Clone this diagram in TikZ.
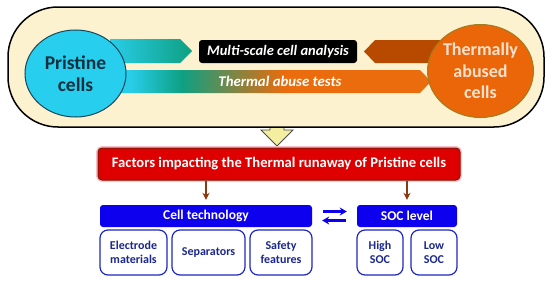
\documentclass[tikz,border=0pt]{standalone}
\usepackage{fontspec}
\setmainfont{Carlito}
\usetikzlibrary{arrows.meta,shapes.geometric}

\definecolor{cream}{RGB}{253,242,208}
\definecolor{pcyan}{RGB}{40,206,238}
\definecolor{pborder}{RGB}{22,70,90}
\definecolor{ptext}{RGB}{14,48,62}
\definecolor{torange}{RGB}{234,102,8}
\definecolor{tborder}{RGB}{160,125,30}
\definecolor{ttext}{RGB}{252,226,206}
\definecolor{tealA}{RGB}{40,205,232}
\definecolor{tealB}{RGB}{14,160,130}
\definecolor{abrown}{RGB}{184,74,0}
\definecolor{aorange}{RGB}{234,108,12}
\definecolor{fred}{RGB}{222,0,0}
\definecolor{fborder}{RGB}{120,30,10}
\definecolor{fglow}{RGB}{250,190,200}
\definecolor{darrow}{RGB}{139,58,15}
\definecolor{bblue}{RGB}{12,0,238}
\definecolor{sbborder}{RGB}{30,40,190}
\definecolor{sbtext}{RGB}{28,40,140}
\definecolor{yarrow}{RGB}{243,238,160}

\pgfdeclarehorizontalshading{abuseshade}{100bp}{color(0bp)=(tealA); color(25bp)=(tealA); color(28bp)=(tealA); color(36bp)=(tealB); color(52bp)=(aorange); color(75bp)=(aorange); color(100bp)=(aorange)}

\tikzset{
  cellcircle/.style={ellipse, draw, line width=1pt, align=center, font=\fontsize{19.5}{22.5}\selectfont\bfseries, inner sep=0pt},
  tagbox/.style={fill=black, rounded corners=3pt, text=white, font=\fontsize{14.5}{16}\selectfont\bfseries\itshape, minimum width=158pt, minimum height=23pt, inner sep=0pt},
  header/.style={fill=bblue, rounded corners=3pt, text=white, font=\fontsize{13.5}{15}\selectfont\bfseries, minimum height=22pt, inner sep=0pt},
  subbox/.style={draw=sbborder, line width=1.2pt, fill=white, rounded corners=8pt, text=sbtext, align=center, font=\fontsize{12}{14}\selectfont\bfseries, minimum height=45pt, inner sep=0pt},
  downarrow/.style={draw=darrow, line width=1.5pt, -{Stealth[length=7pt,width=7pt]}, shorten >=5pt},
  swaparrow/.style={draw=bblue, line width=2.2pt, -{Stealth[length=7pt,width=8pt]}, shorten <=11pt, shorten >=10pt}
}

\begin{document}
\begin{tikzpicture}[x=1pt,y=-1pt]
\useasboundingbox (0,0) rectangle (550,281);

% block arrow from frame down to factors box
\draw[draw=black!70, line width=0.8pt, fill=yarrow]
  (270,118) -- (270,130) -- (261,130) -- (277,146) -- (293,130) -- (284,130) -- (284,118) -- cycle;

% frame
\node[draw=black, line width=1.5pt, fill=cream, rounded corners=50pt, minimum width=536pt, minimum height=120pt, inner sep=0pt] (frame) at (276,67) {};

% arrows
\shade[shading=abuseshade] (112,70) -- (420,70) -- (431,81.5) -- (420,93) -- (112,93) -- cycle;
\shade[left color=tealA, right color=tealB] (110,39) -- (180,39) -- (192,51) -- (180,63) -- (110,63) -- cycle;
\fill[abrown] (445,40) -- (375,40) -- (364,51.5) -- (375,63) -- (445,63) -- cycle;

% circles
\node[cellcircle, fill=pcyan, draw=pborder, text=ptext, minimum width=101pt, minimum height=87pt] (pristine) at (75.5,73.5) {Pristine\\cells};
\node[cellcircle, fill=torange, draw=tborder, text=ttext, font=\fontsize{18}{21.5}\selectfont\bfseries, minimum width=99pt, minimum height=93pt] (abused) at (480.5,71) {Thermally\\abused\\cells};

% labels
\node[tagbox] (multi) at (278,51.5) {Multi-scale cell analysis};
\node[text=white, font=\fontsize{14.8}{16}\selectfont\bfseries\itshape, inner sep=0pt] (abuse) at (280,81.5) {Thermal abuse tests};

% factors box
\node[draw=fglow, line width=4pt, rounded corners=4pt, minimum width=362pt, minimum height=32pt, inner sep=0pt] (glow) at (279,164) {};
\node[fill=fred, draw=fborder, line width=1pt, rounded corners=4pt, text=white, font=\fontsize{14.6}{17}\selectfont\bfseries, minimum width=362pt, minimum height=32pt, inner sep=0pt] (factors) at (279,164) {Factors impacting the Thermal runaway of Pristine cells};

% headers
\node[header, minimum width=212pt] (celltech) at (206,216) {Cell technology};
\node[header, minimum width=100pt] (soc) at (407,216) {SOC level};

\draw[downarrow] (celltech.north |- factors.south) -- (celltech.north);
\draw[downarrow] (soc.north |- factors.south) -- (soc.north);

\draw[swaparrow] ([yshift=4.5pt]celltech.east) -- ([yshift=4.5pt]soc.west);
\draw[swaparrow] ([yshift=-4.5pt]soc.west) -- ([yshift=-4.5pt]celltech.east);

% sub boxes
\node[subbox, minimum width=67pt] (electrode) at (133.5,252.5) {Electrode\\materials};
\node[subbox, minimum width=73pt] (separators) at (208.5,252.5) {Separators};
\node[subbox, minimum width=62pt] (safety) at (281,252.5) {Safety\\features};
\node[subbox, minimum width=46pt] (high) at (380,252.5) {High\\SOC};
\node[subbox, minimum width=46pt] (low) at (434,252.5) {Low\\SOC};
\end{tikzpicture}
\end{document}
